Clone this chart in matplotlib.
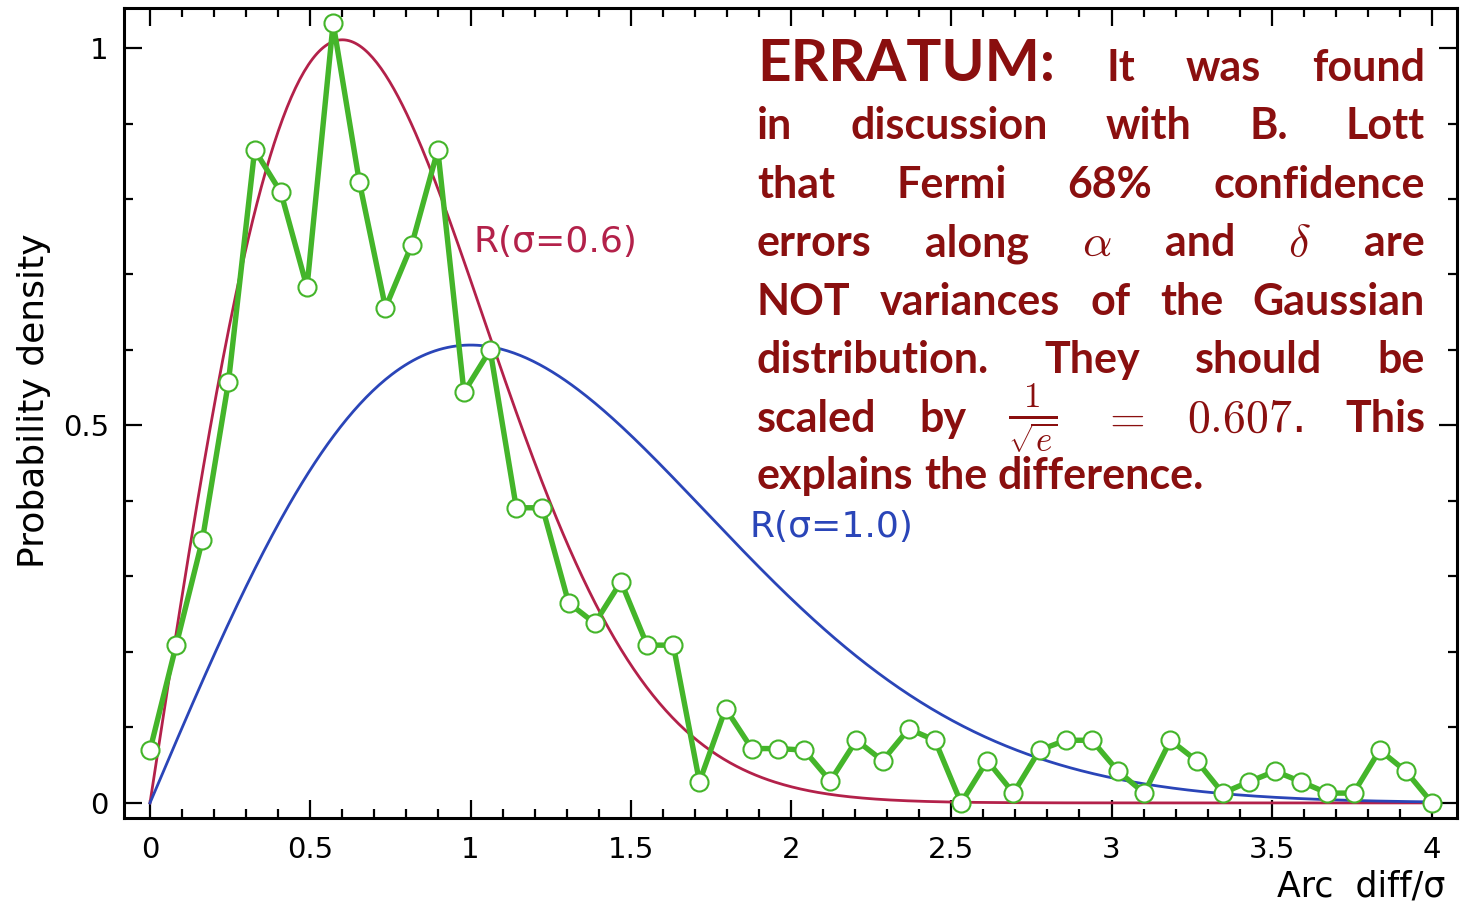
import numpy as np
import matplotlib
matplotlib.use('Agg')
import matplotlib.pyplot as plt
from matplotlib.ticker import MultipleLocator, FuncFormatter

# measured histogram (green) at 50 equally spaced bins from 0 to 4
x_data = np.linspace(0, 4, 50)
y_data = [0.070, 0.209, 0.348, 0.558, 0.865, 0.809, 0.683, 1.033, 0.823, 0.656,
          0.739, 0.865, 0.544, 0.600, 0.391, 0.391, 0.265, 0.238, 0.293, 0.209,
          0.209, 0.028, 0.125, 0.072, 0.072, 0.070, 0.029, 0.083, 0.056, 0.098,
          0.083, 0.000, 0.056, 0.013, 0.070, 0.083, 0.083, 0.042, 0.013, 0.083,
          0.056, 0.013, 0.028, 0.042, 0.028, 0.013, 0.013, 0.070, 0.042, 0.000]
sigmas = [0.6, 1.0]
curve_labels = ['R(σ=0.6)', 'R(σ=1.0)']
curve_colors = ['#b3214a', '#2a45b8']
label_pos = [(1.01, 0.743), (1.87, 0.366)]

dark_red = '#8a0f0f'
green = '#44b52a'

fig = plt.figure(figsize=(14.61, 9.01), dpi=100)
ax = fig.add_axes([0.0849, 0.0921, 0.9124, 0.899])

xx = np.linspace(0, 4, 600)
for s, c, lab, (lx, ly) in zip(sigmas, curve_colors, curve_labels, label_pos):
    ax.plot(xx, xx / s**2 * np.exp(-xx**2 / (2 * s**2)), c=c, lw=2.0, zorder=2)
    ax.text(lx, ly, lab, color=c, fontsize=26, va='center', ha='left')

ax.plot(x_data, y_data, c=green, lw=3.9, marker='o', ms=13, mfc='white', mec=green, mew=1.5, zorder=3)

ax.set_xlim(-0.081, 4.078); ax.set_ylim(-0.02, 1.053)
ax.xaxis.set_major_locator(MultipleLocator(0.5)); ax.xaxis.set_minor_locator(MultipleLocator(0.1))
ax.yaxis.set_major_locator(MultipleLocator(0.5)); ax.yaxis.set_minor_locator(MultipleLocator(0.1))
fmt = FuncFormatter(lambda v, p: ('%g' % round(v, 2)))
ax.xaxis.set_major_formatter(fmt); ax.yaxis.set_major_formatter(fmt)
ax.tick_params(which='both', direction='in', top=True, right=True, width=1.6)
ax.tick_params(which='major', length=13, labelsize=21, pad=13)
ax.tick_params(which='minor', length=6.5)
ax.tick_params(axis='y', which='major', pad=11)
for sp in ax.spines.values():
    sp.set_linewidth(2.2)
ax.set_ylabel('Probability density', fontsize=26)
ax.yaxis.set_label_coords(-0.055, 0.515)
ax.set_xlabel('Arc  diff/σ', fontsize=25, ha='right')
ax.xaxis.set_label_coords(0.991, -0.063)

# justified erratum text, drawn word by word in pixel coordinates
W, H = fig.get_size_inches() * fig.dpi
left_px, right_px = 757, 1425
body = dict(fontsize=31, color=dark_red, family='Lato', weight='bold')
big = dict(fontsize=42, color=dark_red, family='Lato', weight='bold')
math = dict(fontsize=33, color=dark_red, math_fontfamily='cm')
frac = dict(fontsize=36, color=dark_red, math_fontfamily='cm')
lines = [
    ([('ERRATUM:', big), ('It', body), ('was', body), ('found', body)], 81, True),
    ([('in', body), ('discussion', body), ('with', body), ('B.', body), ('Lott', body)], 139, True),
    ([('that', body), ('Fermi', body), ('68%', body), ('confidence', body)], 198, True),
    ([('errors', body), ('along', body), (r'$\alpha$', math), ('and', body), (r'$\delta$', math), ('are', body)], 256, True),
    ([('NOT', body), ('variances', body), ('of', body), ('the', body), ('Gaussian', body)], 315, True),
    ([('distribution.', body), ('They', body), ('should', body), ('be', body)], 373, True),
    ([('scaled', body), ('by', body), (r'$\frac{1}{\sqrt{e}}$', frac), (r'$=$', math), (r'$0.607$.', math), ('This', body)], 432, True),
    ([('explains', body), ('the', body), ('difference.', body)], 489, False),
]
r = fig.canvas.get_renderer()
sp_txt = fig.text(0, 0, 'a a', **body); sp_a = fig.text(0, 0, 'aa', **body)
space = sp_txt.get_window_extent(r).width - sp_a.get_window_extent(r).width
sp_txt.remove(); sp_a.remove()
for words, base, justify in lines:
    objs = []
    for w, kw in words:
        b = base - 5 if kw is frac else base  # lift the fraction a little
        objs.append(fig.text(0, 1 - b / H, w, va='baseline', ha='left', **kw))
    widths = [o.get_window_extent(r).width for o in objs]
    gap = (right_px - left_px - sum(widths)) / (len(objs) - 1) if justify else space
    xp = left_px
    for o, w in zip(objs, widths):
        o.set_x(xp / W)
        xp += w + gap

fig.savefig('out.png', dpi=100)
